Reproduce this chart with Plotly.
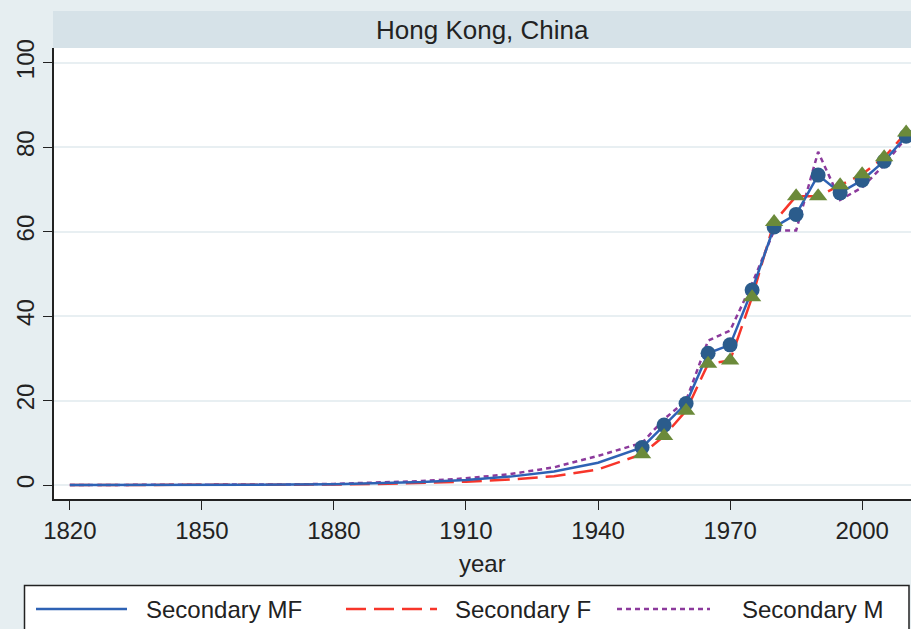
import plotly.graph_objects as go

# ---- data ----
years = [1820, 1830, 1840, 1850, 1860, 1870, 1880, 1890, 1900, 1910, 1920, 1930, 1940,
         1950, 1955, 1960, 1965, 1970, 1975, 1980, 1985, 1990, 1995, 2000, 2005, 2010]
sec_mf = [0.0, 0.0, 0.02, 0.04, 0.07, 0.12, 0.2, 0.4, 0.7, 1.2, 2.0, 3.2, 5.3,
          8.9, 14.2, 19.3, 31.2, 33.2, 46.2, 61.1, 64.1, 73.4, 69.2, 72.2, 76.7, 82.6]
sec_f = [0.0, 0.0, 0.01, 0.02, 0.04, 0.07, 0.12, 0.25, 0.45, 0.8, 1.3, 2.1, 3.7,
         7.3, 11.6, 17.6, 28.7, 29.5, 44.5, 62.3, 68.4, 68.4, 71.0, 73.6, 77.6, 83.5]
sec_m = [0.0, 0.0, 0.02, 0.05, 0.09, 0.16, 0.28, 0.55, 0.95, 1.6, 2.6, 4.2, 6.9,
         10.0, 15.6, 20.0, 34.2, 36.6, 47.7, 60.3, 60.3, 78.9, 67.5, 70.5, 75.8, 82.3]
marker_start_year = 1950
x_ticks = [1820, 1850, 1880, 1910, 1940, 1970, 2000]
y_ticks = [0, 20, 40, 60, 80, 100]
panel_title = "Hong Kong, China"
series_names = ["Secondary MF", "Secondary F", "Secondary M"]

FONT = "Liberation Sans, Arial, Helvetica, sans-serif"
c_mf, c_f, c_m = "#2e62b4", "#f7352a", "#8c3a9c"
c_circle, c_tri = "#2b5c8c", "#6b8a3a"
styles = [dict(color=c_mf, width=2.5, dash="solid"),
          dict(color=c_f, width=2.5, dash="20px,8px"),
          dict(color=c_m, width=2.5, dash="5px,4px")]

# layout geometry (pixels)
W, H = 911, 629
L, R, T, B = 54, 0, 48, 130
PW, PH = W - L - R, H - T - B


def px(xp):
    return (xp - L) / PW


def py(yp):
    return (H - B - yp) / PH


mk_idx = [i for i, y in enumerate(years) if y >= marker_start_year]
mk_years = [years[i] for i in mk_idx]

fig = go.Figure()
for name, vals, st in [(series_names[2], sec_m, styles[2]),
                       (series_names[1], sec_f, styles[1]),
                       (series_names[0], sec_mf, styles[0])]:
    fig.add_trace(go.Scatter(x=years, y=vals, mode="lines", name=name,
                             line=st, showlegend=False))
fig.add_trace(go.Scatter(x=mk_years, y=[sec_mf[i] for i in mk_idx], mode="markers",
                         showlegend=False, cliponaxis=False,
                         marker=dict(symbol="circle", size=15, color=c_circle)))
fig.add_trace(go.Scatter(x=mk_years, y=[sec_f[i] for i in mk_idx], mode="markers",
                         showlegend=False, cliponaxis=False,
                         marker=dict(symbol="triangle-up", size=16, color=c_tri)))

shapes = [
    # panel title strip
    dict(type="rect", xref="paper", yref="paper", x0=px(53), x1=px(911),
         y0=py(T), y1=py(11), fillcolor="#d6e2e8", line=dict(width=0), layer="below"),
    # legend box
    dict(type="rect", xref="paper", yref="paper", x0=px(24.5), x1=px(909),
         y0=py(640), y1=py(585.5), fillcolor="white",
         line=dict(color="#222222", width=1.5)),
]
annotations = [dict(text=panel_title, xref="paper", yref="paper", x=0.5,
                    y=py(30), xanchor="center", yanchor="middle",
                    showarrow=False, font=dict(size=26, color="#222222")),
               dict(text="year", xref="paper", yref="paper", x=0.5, y=py(563),
                    xanchor="center", yanchor="middle", showarrow=False,
                    font=dict(size=24, color="#222222"))]
leg_y = 609
sample_x = [(36, 127), (346, 437), (617, 710)]
text_x = [144, 453, 740]
for name, st, (a, b), tx in zip(series_names, styles, sample_x, text_x):
    shapes.append(dict(type="line", xref="paper", yref="paper", x0=px(a), x1=px(b),
                       y0=py(leg_y), y1=py(leg_y), line=st))
    annotations.append(dict(text=name, xref="paper", yref="paper", x=px(tx),
                            y=py(leg_y), xanchor="left", yanchor="middle",
                            showarrow=False, font=dict(size=24, color="#222222")))

fig.update_layout(
    width=W, height=H,
    margin=dict(l=L, r=R, t=T, b=B, autoexpand=False),
    paper_bgcolor="#e6eef1",
    plot_bgcolor="white",
    font=dict(family=FONT, size=24, color="#222222"),
    showlegend=False,
    xaxis=dict(range=[1816.4, 2011.1], tickvals=x_ticks, showgrid=False,
               showline=True, linecolor="#222222", linewidth=1.5, automargin=False,
               ticks="outside", ticklen=9, tickcolor="#222222", zeroline=False,
               tickfont=dict(size=24)),
    yaxis=dict(range=[-3.3, 103.5], tickvals=y_ticks, tickangle=-90, automargin=False,
               showgrid=True, gridcolor="#e8eff2", gridwidth=1.5,
               showline=True, linecolor="#222222", linewidth=1.5,
               ticks="outside", ticklen=9, tickcolor="#222222", zeroline=False,
               tickfont=dict(size=24)),
    shapes=shapes,
    annotations=annotations,
)

fig.write_html("out.html",
               config={"displayModeBar": False},
               post_script="document.body.style.margin='0';"
                           "document.body.style.overflow='hidden';")
